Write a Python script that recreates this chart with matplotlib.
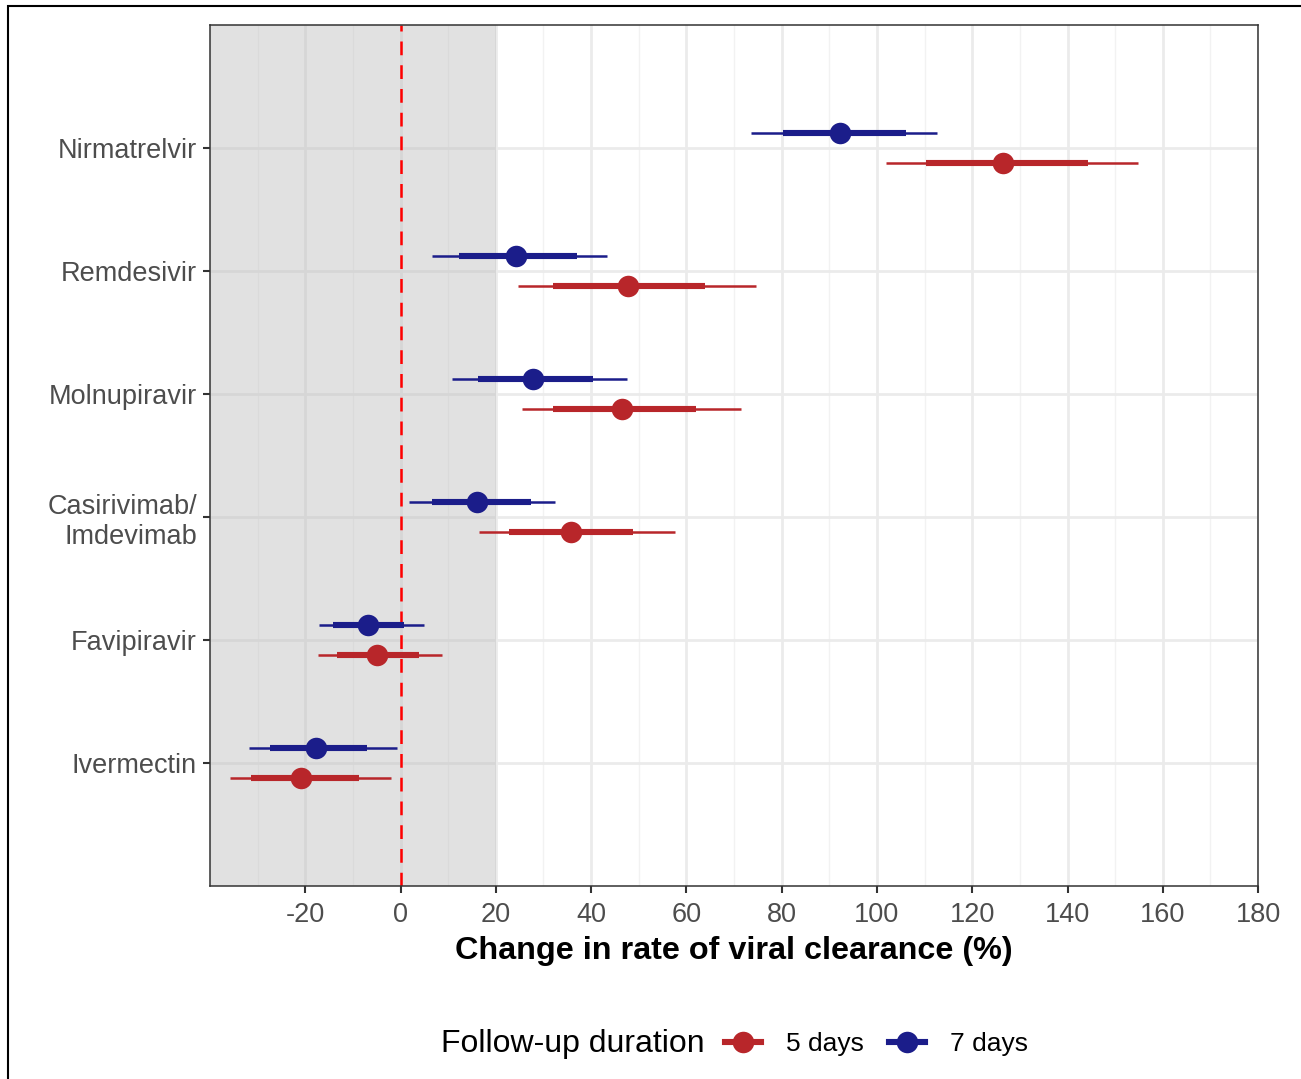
import matplotlib.pyplot as plt
from matplotlib.lines import Line2D
from matplotlib.patches import Rectangle
from matplotlib.ticker import MultipleLocator

plt.rcParams['font.family'] = ['Liberation Sans', 'DejaVu Sans']
plt.rcParams['axes.unicode_minus'] = False

# drugs listed top to bottom
drugs = ['Nirmatrelvir', 'Remdesivir', 'Molnupiravir',
         'Casirivimab/\nImdevimab', 'Favipiravir', 'Ivermectin']

# 5 days follow-up
est_5 = [126.5, 47.8, 46.4, 35.7, -5.0, -20.8]
lo80_5 = [110.2, 32.1, 31.9, 22.7, -13.4, -31.3]
hi80_5 = [144.4, 64.0, 62.1, 48.7, 3.8, -8.8]
lo95_5 = [101.8, 24.6, 25.4, 16.4, -17.4, -35.9]
hi95_5 = [154.7, 74.7, 71.4, 57.7, 8.6, -1.9]

# 7 days follow-up
est_7 = [92.3, 24.3, 27.9, 16.0, -6.9, -17.8]
lo80_7 = [80.2, 12.2, 16.2, 6.7, -14.1, -27.3]
hi80_7 = [106.0, 37.1, 40.5, 27.3, 0.8, -7.1]
lo95_7 = [73.5, 6.7, 10.9, 1.7, -17.2, -31.9]
hi95_7 = [112.7, 43.4, 47.6, 32.5, 5.0, -0.8]

red = '#B8262A'
blue = '#1B1D8A'

fig = plt.figure(figsize=(13.01, 10.79), dpi=100)
ax = fig.add_axes([0.1614, 0.1789, 0.8056, 0.7979])

n = len(drugs)
ypos = [n - i for i in range(n)]
off = 0.125

# grey region (no meaningful effect) and reference line
ax.axvspan(-40, 20, color='#BEBEBE', alpha=0.45, lw=0, zorder=1)
ax.axvline(0, color='#FF0000', lw=1.8, ls=(0, (5.5, 4)), zorder=2)

for est, lo80, hi80, lo95, hi95, col, d in [
        (est_5, lo80_5, hi80_5, lo95_5, hi95_5, red, -off),
        (est_7, lo80_7, hi80_7, lo95_7, hi95_7, blue, off)]:
    yy = [y + d for y in ypos]
    ax.hlines(yy, lo95, hi95, color=col, lw=1.8, zorder=3)
    ax.hlines(yy, lo80, hi80, color=col, lw=4.4, zorder=4)
    ax.plot(est, yy, 'o', color=col, ms=15.5, mew=0, zorder=5)

ax.set_xlim(-40, 180)
ax.set_ylim(0, n + 1)
ax.set_yticks(ypos)
ax.set_yticklabels(drugs)
ax.xaxis.set_minor_locator(MultipleLocator(10))
ax.set_xticks([-20, 0, 20, 40, 60, 80, 100, 120, 140, 160, 180])

ax.grid(True, which='major', color='#EBEBEB', lw=2.0, zorder=0)
ax.grid(True, which='minor', axis='x', color='#F2F2F2', lw=1.0, zorder=0)
ax.set_axisbelow(True)

ax.tick_params(axis='both', which='major', length=5, width=1.5, color='#333333',
               labelsize=19.5, labelcolor='#4D4D4D', pad=4.5)
ax.tick_params(axis='x', which='major', pad=6.5)
ax.tick_params(axis='x', which='minor', length=0)
for s in ax.spines.values():
    s.set_color('#333333')
    s.set_linewidth(1.1)

ax.set_xlabel('Change in rate of viral clearance (%)', fontsize=23.3,
              fontweight='bold', labelpad=6)

# legend
fig.text(0.339, 0.0325, 'Follow-up duration', fontsize=23, va='center', ha='left')
handles = [Line2D([0], [0], color=red, lw=4.4, marker='o', ms=15.5, mew=0),
           Line2D([0], [0], color=blue, lw=4.4, marker='o', ms=15.5, mew=0)]
fig.legend(handles, ['5 days', '7 days'], loc='center left',
           bbox_to_anchor=(0.5575, 0.0325), ncol=2, frameon=False,
           fontsize=19, handlelength=1.35, handletextpad=0.95,
           columnspacing=0.95, borderaxespad=0, borderpad=0)

# outer frame
fig.patches.append(Rectangle((8 / 1301, -0.1), 1.2, 1.0944, fill=False,
                             ec='black', lw=1.5, transform=fig.transFigure))

fig.savefig('out.png', dpi=100)
